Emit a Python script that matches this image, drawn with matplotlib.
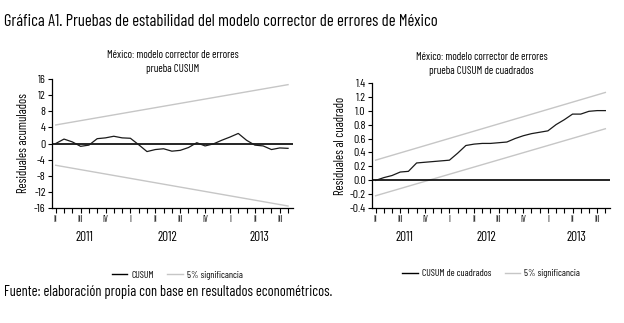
import matplotlib
matplotlib.use("Agg")
import matplotlib.pyplot as plt
from matplotlib.lines import Line2D
from matplotlib import transforms

# --- datos ---
meses = list(range(29))  # abril 2011 - agosto 2013
cusum = [0.0, 1.1, 0.4, -0.7, -0.4, 1.2, 1.4, 1.8, 1.4, 1.3,
         -0.3, -2.0, -1.5, -1.3, -1.9, -1.7, -1.0, 0.2, -0.6, -0.1,
         0.8, 1.6, 2.5, 0.8, -0.4, -0.6, -1.5, -1.1, -1.2]
cusum_sup = [4.6, 14.6]
cusum_inf = [-5.4, -15.5]

cusum_cuad = [0.00, 0.04, 0.07, 0.12, 0.13, 0.25, 0.26, 0.27, 0.28, 0.29,
              0.39, 0.50, 0.52, 0.53, 0.53, 0.54, 0.55, 0.60, 0.64, 0.67,
              0.69, 0.71, 0.80, 0.87, 0.95, 0.95, 0.99, 1.00, 1.00]
cuad_sup = [0.29, 1.26]
cuad_inf = [-0.22, 0.74]

trimestres = ["II", "III", "IV", "I", "II", "III", "IV", "I", "II", "III"]
anios = ["2011", "2012", "2013"]
pos_anios = [3.5, 13.5, 24.5]

titulo = "Gráfica A1. Pruebas de estabilidad del modelo corrector de errores de México"
fuente = "Fuente: elaboración propia con base en resultados econométricos."

# fuente condensada parecida a la del original
plt.rcParams['font.family'] = ['Barlow Condensed', 'Liberation Sans Narrow', 'DejaVu Sans']

GRIS = "#c6c6c6"

fig = plt.figure(figsize=(6.24, 3.23), dpi=100)
ax1 = fig.add_axes([0.0833, 0.356, 0.3863, 0.3994])
ax2 = fig.add_axes([0.596, 0.355, 0.382, 0.389])


def dibujar(ax, serie, sup, inf, yticks, fmt, subtit, xtit, ytit, ylab, ylab_x, etiqueta, x_ley):
    x_ext = [meses[0], meses[-1]]
    ax.axhline(0, color="black", lw=1.2, zorder=2)
    ax.plot(x_ext, sup, color=GRIS, lw=1.0, zorder=1)
    ax.plot(x_ext, inf, color=GRIS, lw=1.0, zorder=1)
    ax.plot(meses, serie, color="#1a1a1a", lw=0.9, zorder=3)

    ax.set_xlim(-0.45, 28.6)
    ax.set_ylim(yticks[0], yticks[-1])
    ax.set_yticks(yticks)
    ax.set_yticklabels([fmt(v) for v in yticks], fontsize=8.5)
    ax.set_xticks(range(0, 30, 3))
    ax.set_xticklabels(trimestres, fontsize=6.5)
    ax.set_xticks(meses, minor=True)
    ax.tick_params(axis="x", which="both", direction="out", length=3.5, width=0.8, pad=1.5)
    ax.tick_params(axis="y", direction="out", length=3, width=0.8, pad=1.5)
    for s in ["top", "right"]:
        ax.spines[s].set_visible(False)
    for s in ["left", "bottom"]:
        ax.spines[s].set_linewidth(0.9)

    ax.set_ylabel(ylab, fontsize=9)
    ax.yaxis.set_label_coords(ylab_x, 0.5)

    ax.text(xtit, ytit, subtit, transform=ax.transAxes, ha="center", va="center",
            fontsize=7.8, linespacing=1.45)

    trans = transforms.blended_transform_factory(ax.transData, ax.transAxes)
    for a, p in zip(anios, pos_anios):
        ax.text(p, -0.23, a, transform=trans, ha="center", va="center", fontsize=9.5)

    handles = [Line2D([], [], color="black", lw=1.0),
               Line2D([], [], color=GRIS, lw=1.0)]
    ax.legend(handles, [etiqueta, "5% significancia"], loc="center",
              bbox_to_anchor=(x_ley, -0.52), ncol=2, frameon=False, fontsize=7,
              handlelength=1.6, handletextpad=0.4, columnspacing=1.4)


dibujar(ax1, cusum, cusum_sup, cusum_inf, list(range(-16, 17, 4)),
        lambda v: f"{v:d}", "México: modelo corrector de errores\nprueba CUSUM", 0.5, 1.13,
        "Residuales acumulados", -0.09, "CUSUM", 0.52)

dibujar(ax2, cusum_cuad, cuad_sup, cuad_inf, [round(-0.4 + 0.2 * k, 1) for k in range(10)],
        lambda v: f"{v:.1f}", "México: modelo corrector de errores\nprueba CUSUM de cuadrados", 0.46, 1.15,
        "Residuales al cuadrado", -0.105, "CUSUM de cuadrados", 0.5)

fig.text(0.007, 0.933, titulo, fontsize=12, ha="left", va="center")
fig.text(0.007, 0.095, fuente, fontsize=10.4, ha="left", va="center")

fig.savefig("out.png", dpi=100)
